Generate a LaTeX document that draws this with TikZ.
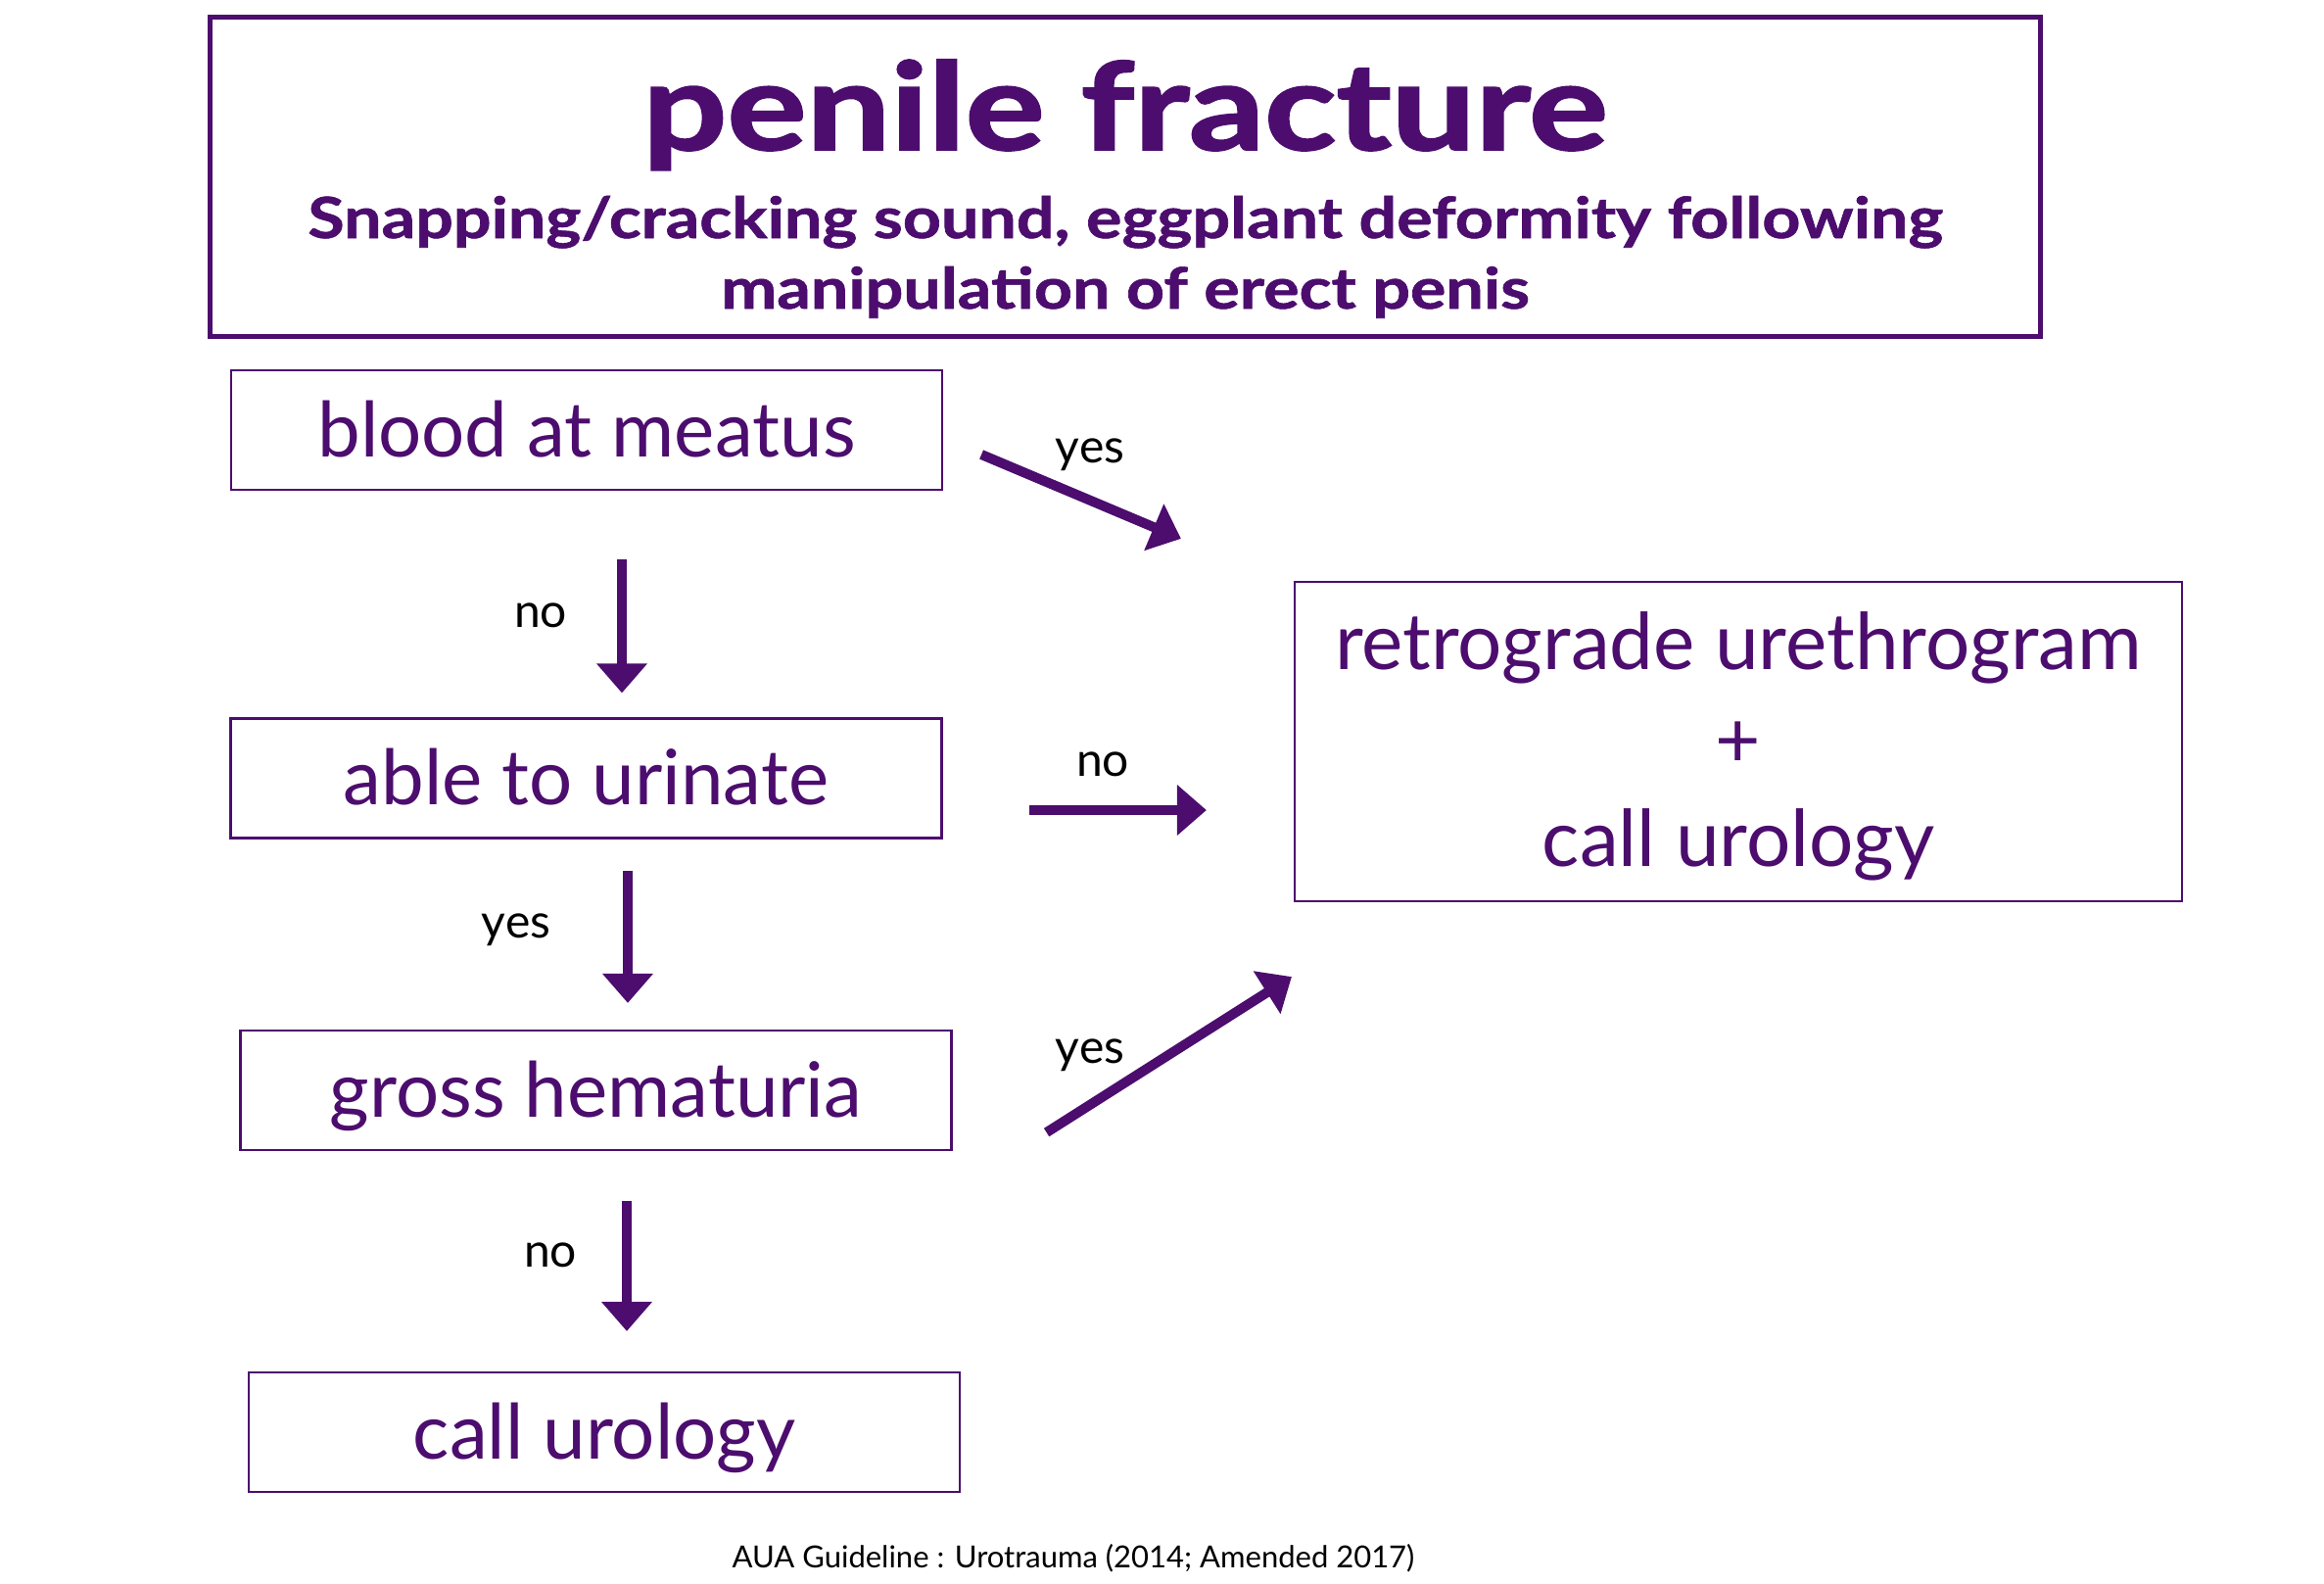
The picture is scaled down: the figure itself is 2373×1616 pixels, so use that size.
\documentclass[tikz,border=0pt]{standalone}
\usepackage{fontspec}
\setmainfont{Lato}
\usetikzlibrary{arrows.meta,calc}
\definecolor{purp}{HTML}{4C0D6E}
\begin{document}
\begin{tikzpicture}[x=0.25pt,y=-0.25pt,
  box/.style={draw=purp,line width=0.55pt,minimum width=181.5pt,minimum height=30.5pt,inner sep=0pt,text=purp,
    font=\fontsize{19.5}{22}\selectfont,text height=15pt,text depth=1.5pt},
  rtxt/.style={text=purp,font=\fontsize{20}{24}\selectfont,inner sep=0pt,anchor=base},
  arr/.style={draw=purp,line width=2.5pt,-{Triangle[width=12.5pt,length=7.5pt]}},
  lab/.style={font=\fontsize{12}{14}\selectfont,text=black,inner sep=0pt,anchor=base}]
\useasboundingbox (0,0) rectangle (2373,1616);
% title box
\node[draw=purp,line width=1.25pt,minimum width=467.25pt,minimum height=81.5pt,inner sep=0pt] (title) at (1149,180.5) {};
\node[text=purp,inner sep=0pt,anchor=base] (t1) at (1149,153)
  {\scalebox{1.225}[1]{\fontsize{31}{34}\bfseries\addfontfeature{FakeBold=1.5}\selectfont penile fracture}};
\node[text=purp,inner sep=0pt,anchor=base] (t2) at (1149,243)
  {\scalebox{1.175}[1]{\fontsize{14.5}{17}\bfseries\addfontfeature{FakeBold=1}\selectfont Snapping/cracking sound, eggplant deformity following}};
\node[text=purp,inner sep=0pt,anchor=base] (t3) at (1149,315)
  {\scalebox{1.175}[1]{\fontsize{14.5}{17}\bfseries\addfontfeature{FakeBold=1}\selectfont manipulation of erect penis}};
% boxes
\node[box] (b1) at (599,439) {blood at meatus};
\node[box] (b2) at (598.5,794.5) {able to urinate};
\node[box] (b3) at (608.5,1113) {gross hematuria};
\node[box] (b4) at (617,1462) {call urology};
\node[draw=purp,line width=0.55pt,minimum width=226.5pt,minimum height=81.5pt,inner sep=0pt] (R) at (1775,757) {};
\node[rtxt] (r1) at (1775,683) {retrograde urethrogram};
\node[rtxt] (r2) at (1775,783.5) {+};
\node[rtxt] (r3) at (1775,884) {call urology};
% arrows
\coordinate (a1s) at ($(b1.east)+(39,25)$);
\coordinate (a1e) at ($(R.north west)+(-115,-43)$);
\draw[arr] (a1s) -- (a1e);
\node[lab] (l1) at (1113,472) {yes};
\coordinate (a2s) at ($(b1.south)+(36,70)$);
\coordinate (a2e) at ($(b2.north)+(36.5,-25)$);
\draw[arr] (a2s) -- (a2e);
\node[lab] (l2) at (552,640) {no};
\coordinate (a3s) at ($(b2.east)+(88,32.5)$);
\coordinate (a3e) at ($(R.west)+(-89,70)$);
\draw[arr] (a3s) -- (a3e);
\node[lab] (l3) at (1126,792.5) {no};
\coordinate (a4s) at ($(b2.south)+(42.5,32)$);
\coordinate (a4e) at ($(b3.north)+(32.5,-27)$);
\draw[arr] (a4s) -- (a4e);
\node[lab] (l4) at (527,957.5) {yes};
\coordinate (a5s) at ($(b3.east)+(96,43)$);
\coordinate (a5e) at ($(R.south west)+(-2,76)$);
\draw[arr] (a5s) -- (a5e);
\node[lab] (l5) at (1113,1085.5) {yes};
\coordinate (a6s) at ($(b3.south)+(31.5,51)$);
\coordinate (a6e) at ($(b4.north)+(23,-41)$);
\draw[arr] (a6s) -- (a6e);
\node[lab] (l6) at (562,1293) {no};
\node[font=\fontsize{7.75}{10}\selectfont,inner sep=0pt,anchor=base] (foot) at (1096,1600) {AUA Guideline : Urotrauma (2014; Amended 2017)};
\end{tikzpicture}
\end{document}
